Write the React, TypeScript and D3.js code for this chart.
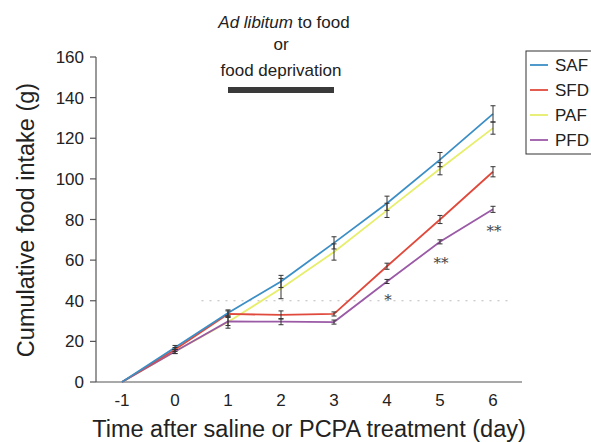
import React from "react";
import * as d3 from "d3";

const days = [-1, 0, 1, 2, 3, 4, 5, 6];
const seriesNames = ["SAF", "SFD", "PAF", "PFD"];
const colors = ["#3b8fc6", "#e04a3c", "#e6ee6a", "#9b5aa6"];
const SAF = [0, 17, 34, 49.5, 68.5, 88, 109.5, 132];
const SFD = [0, 16, 33.5, 33, 33.5, 57, 80, 103.5];
const PAF = [0, 15, 29.5, 46, 64, 84.5, 105, 125];
const PFD = [0, 15, 29.8, 29.7, 29.5, 49.5, 69, 85];
const SAFerr = [0, 1, 1.5, 3, 3, 3.5, 3.5, 4];
const SFDerr = [0, 1, 1.5, 2, 1, 1.5, 2, 2.5];
const PAFerr = [0, 1, 3, 5, 4, 3.5, 3, 3];
const PFDerr = [0, 1, 2, 1.5, 1, 1, 1, 1.5];
const yTicks = [0, 20, 40, 60, 80, 100, 120, 140, 160];
const stars = [
  { day: 4, v: 42, label: "*" },
  { day: 5, v: 60, label: "**" },
  { day: 6, v: 76, label: "**" },
];

export default function App() {
  const W = 591, H = 442;
  const x = d3.scaleLinear().domain([-1, 6]).range([122, 493]);
  const y = d3.scaleLinear().domain([0, 160]).range([382, 57]);
  const all = [SAF, SFD, PAF, PFD];
  const errs = [SAFerr, SFDerr, PAFerr, PFDerr];
  const line = d3.line<number>().x((_, i) => x(days[i])).y((d) => y(d));
  const font = "Liberation Sans, Arial, sans-serif";
  const order = [2, 3, 1, 0];
  return (
    <svg width={W} height={H} style={{ position: "absolute", left: 0, top: 0, background: "#fff" }} fontFamily={font}>
      <rect x={0} y={0} width={W} height={H} fill="#fff" />
      <line x1={x(0.5)} x2={x(6.3)} y1={y(40)} y2={y(40)} stroke="#bbb" strokeDasharray="2,6" strokeWidth={1} />
      <line x1={96} x2={96} y1={y(160)} y2={y(0)} stroke="#555" strokeWidth={1.2} />
      <line x1={96} x2={522} y1={y(0)} y2={y(0)} stroke="#555" strokeWidth={1.2} />
      {yTicks.map((t) => (
        <g key={t}>
          <line x1={90} x2={96} y1={y(t)} y2={y(t)} stroke="#555" strokeWidth={1.2} />
          <text x={84} y={y(t)} dy="0.36em" textAnchor="end" fontSize={17} fill="#222">{t}</text>
        </g>
      ))}
      {days.map((d) => (
        <text key={d} x={x(d)} y={406} textAnchor="middle" fontSize={17} fill="#222">{d}</text>
      ))}
      <text x={309} y={437} textAnchor="middle" fontSize={23.5} fill="#222">Time after saline or PCPA treatment (day)</text>
      <text transform={`translate(34,${220}) rotate(-90)`} textAnchor="middle" fontSize={23.5} fill="#222">Cumulative food intake (g)</text>
      <text x={284} y={28} textAnchor="middle" fontSize={17} fill="#222"><tspan fontStyle="italic">Ad libitum</tspan> to food</text>
      <text x={281} y={50} textAnchor="middle" fontSize={17} fill="#222">or</text>
      <text x={281} y={76} textAnchor="middle" fontSize={17} fill="#222">food deprivation</text>
      <rect x={x(1)} y={87} width={x(3) - x(1)} height={6} fill="#3a3a3a" />
      {order.map((si) => (
        <path key={si} d={line(all[si]) || ""} fill="none" stroke={colors[si]} strokeWidth={1.8} />
      ))}
      {order.map((si) => (
        <g key={"e" + si}>
          {all[si].map((v, i) =>
            errs[si][i] > 0 ? (
              <g key={i} stroke="#333" strokeWidth={1}>
                <line x1={x(days[i])} x2={x(days[i])} y1={y(v - errs[si][i])} y2={y(v + errs[si][i])} />
                <line x1={x(days[i]) - 2.5} x2={x(days[i]) + 2.5} y1={y(v - errs[si][i])} y2={y(v - errs[si][i])} />
                <line x1={x(days[i]) - 2.5} x2={x(days[i]) + 2.5} y1={y(v + errs[si][i])} y2={y(v + errs[si][i])} />
              </g>
            ) : null
          )}
        </g>
      ))}
      {stars.map((s, i) => (
        <text key={i} x={x(s.day) + 1} y={y(s.v) + 8} textAnchor="middle" fontSize={15} fill="#444" fontFamily="DejaVu Serif, serif">{s.label}</text>
      ))}
      <rect x={526} y={51} width={80} height={103} fill="#fff" stroke="#333" strokeWidth={1} />
      {seriesNames.map((n, i) => (
        <g key={n}>
          <line x1={530} x2={548} y1={65 + i * 25} y2={65 + i * 25} stroke={colors[i]} strokeWidth={1.8} />
          <text x={555} y={65 + i * 25} dy="0.36em" fontSize={17} fill="#222">{n}</text>
        </g>
      ))}
    </svg>
  );
}
